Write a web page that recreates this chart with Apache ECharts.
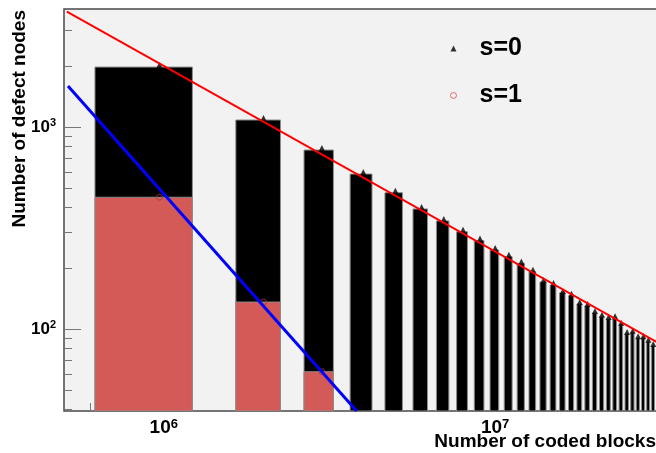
<!DOCTYPE html>
<html>
<head>
<meta charset="utf-8">
<title>Defect nodes vs coded blocks</title>
<script src="https://cdn.jsdelivr.net/npm/echarts@6/dist/echarts.min.js"></script>
<style>
  html, body { margin: 0; padding: 0; background: #fff; }
  #chart { width: 656px; height: 453px; }
</style>
</head>
<body>
<div id="chart"></div>
<script>
// bin centres, number of coded blocks (first one sits a little low in the plot)
var codedBlocks = [0.97e6, 2e6, 3e6, 4e6, 5e6, 6e6, 7e6, 8e6, 9e6, 10e6,
  11e6, 12e6, 13e6, 14e6, 15e6, 16e6, 17e6, 18e6, 19e6, 20e6,
  21e6, 22e6, 23e6, 24e6, 25e6, 26e6, 27e6, 28e6, 29e6, 30e6]
// s=0
var defectsS0 = [1980, 1083, 769, 585, 473, 393, 343, 303, 274, 246,
  228, 211, 192, 171, 165, 151, 146, 133, 130, 120,
  115, 112, 113, 105, 94.5, 96, 90, 90, 86.5, 82.4]
// s=1, the later bins are below the axis
var defectsS1 = [449, 136, 61.5]
// fitted power laws, drawn between two end points
var fitS0X = [5.1e5, 3.1e7]
var fitS0Y = [3720, 85.6]
var fitS1X = [5.14e5, 3.82e6]
var fitS1Y = [1596, 39.3]
// tick values
var majorTicksX = [1e6, 1e7]
var minorTicksX = [6e5, 7e5, 8e5, 9e5, 2e6, 3e6, 4e6, 5e6, 6e6, 7e6, 8e6, 9e6, 2e7, 3e7]
var majorTicksY = [100, 1000]
var minorTicksY = [40, 50, 60, 70, 80, 90, 200, 300, 400, 500, 600, 700, 800, 900, 2000, 3000]

var xMin = 5e5, xMax = 3.1e7
var yMin = 39.3, yMax = 3837
var binWidth = 1e6
var font = "'Liberation Sans', Arial, sans-serif"

var chart = echarts.init(document.getElementById('chart'))

function powLabel(v) {
  return '{b|10}{s|' + Math.round(Math.log10(v)) + '}'
}

// histogram bar: offset 0.15, width 0.6 of the bin
function barRender(fill) {
  return function (params, api) {
    var x = api.value(0)
    var top = api.coord([x - 0.35 * binWidth, api.value(1)])
    var bottom = api.coord([x + 0.25 * binWidth, yMin])
    return {
      type: 'rect',
      shape: { x: top[0], y: top[1], width: bottom[0] - top[0], height: bottom[1] - top[1] },
      style: { fill: fill, stroke: '#8c8c8c', lineWidth: 1 }
    }
  }
}

function pairs(xs, ys) {
  return ys.map(function (y, i) { return [xs[i], y] })
}

var axisCommon = {
  type: 'log',
  logBase: 10,
  splitLine: { show: false },
  axisLine: { show: false }
}

chart.setOption({
  animation: false,
  textStyle: { fontFamily: font },
  grid: {
    left: 64, top: 9, width: 594, height: 402,
    outerBoundsMode: 'none',
    containLabel: false,
    show: true, backgroundColor: '#f2f2f2', borderColor: '#4a4a4a', borderWidth: 1.5
  },
  // axis titles, ROOT style: aligned to the far end of each axis
  graphic: [
    {
      type: 'text', x: 656, y: 432, silent: true,
      style: { text: 'Number of coded blocks', font: 'bold 19px ' + font, fill: '#000', align: 'right', verticalAlign: 'top' }
    },
    {
      type: 'text', x: 29, y: 10, rotation: Math.PI / 2, silent: true,
      style: { text: 'Number of defect nodes', font: 'bold 19px ' + font, fill: '#000', align: 'right', verticalAlign: 'bottom' }
    }
  ],
  legend: {
    data: [
      { name: 's=0', icon: 'triangle', itemStyle: { color: '#000' } },
      { name: 's=1', icon: 'circle', itemStyle: { color: 'transparent', borderColor: '#e0474c', borderWidth: 1 } }
    ],
    orient: 'vertical',
    left: 445, top: 31,
    itemWidth: 6, itemHeight: 6, itemGap: 22,
    textStyle: { fontSize: 25, fontWeight: 'bold', color: '#000', lineHeight: 24, padding: [0, 0, 0, 18] }
  },
  xAxis: [
    Object.assign({}, axisCommon, {
      position: 'bottom',
      min: xMin, max: xMax,
      axisTick: { inside: true, length: 17, customValues: majorTicksX, lineStyle: { color: '#777' } },
      axisLabel: {
        customValues: majorTicksX, formatter: powLabel, margin: 7, color: '#000',
        rich: {
          b: { fontSize: 19, fontWeight: 'bold', lineHeight: 20 },
          s: { fontSize: 13, fontWeight: 'bold', lineHeight: 12, verticalAlign: 'top' }
        }
      }
    }),
    Object.assign({}, axisCommon, {
      position: 'bottom',
      min: xMin, max: xMax,
      axisTick: { inside: true, length: 8, customValues: minorTicksX, lineStyle: { color: '#777' } },
      axisLabel: { show: false }
    })
  ],
  yAxis: [
    Object.assign({}, axisCommon, {
      position: 'left',
      min: yMin, max: yMax,
      axisTick: { inside: true, length: 17, customValues: majorTicksY, lineStyle: { color: '#777' } },
      axisLabel: {
        customValues: majorTicksY, formatter: powLabel, margin: 8, color: '#000',
        rich: {
          b: { fontSize: 17, fontWeight: 'bold', lineHeight: 20 },
          s: { fontSize: 11, fontWeight: 'bold', lineHeight: 12, verticalAlign: 'top' }
        }
      }
    }),
    Object.assign({}, axisCommon, {
      position: 'left',
      min: yMin, max: yMax,
      axisTick: { inside: true, length: 8, customValues: minorTicksY, lineStyle: { color: '#777' } },
      axisLabel: { show: false }
    })
  ],
  series: [
    {
      name: 's=0 bars', type: 'custom', clip: true, z: 2,
      renderItem: barRender('#000'),
      data: pairs(codedBlocks, defectsS0)
    },
    {
      name: 's=1 bars', type: 'custom', clip: true, z: 3,
      renderItem: barRender('#d45a57'),
      data: pairs(codedBlocks, defectsS1)
    },
    {
      name: 's=0', type: 'scatter', z: 4,
      symbol: 'triangle', symbolSize: 6, symbolOffset: [0, -2],
      itemStyle: { color: '#000' },
      data: pairs(codedBlocks, defectsS0)
    },
    {
      name: 's=1', type: 'scatter', z: 4,
      symbol: 'circle', symbolSize: 6,
      itemStyle: { color: 'transparent', borderColor: '#a83a36', borderWidth: 1 },
      data: pairs(codedBlocks, defectsS1)
    },
    {
      name: 's=0 fit', type: 'line', z: 5, showSymbol: false, silent: true,
      lineStyle: { color: '#ff0000', width: 2 },
      data: pairs(fitS0X, fitS0Y)
    },
    {
      name: 's=1 fit', type: 'line', z: 5, showSymbol: false, silent: true,
      lineStyle: { color: '#0000ff', width: 3 },
      data: pairs(fitS1X, fitS1Y)
    }
  ]
})
</script>
</body>
</html>
